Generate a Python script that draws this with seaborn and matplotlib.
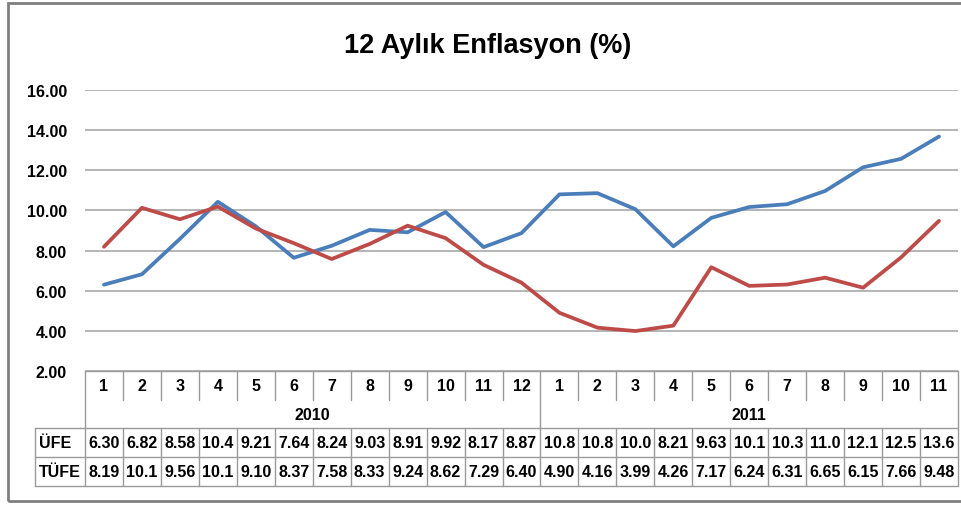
import numpy as np
import pandas as pd
import matplotlib
matplotlib.use("Agg")
import matplotlib.pyplot as plt
import seaborn as sns
from matplotlib.patches import Rectangle

# === DATA ===
MONTHS = [1, 2, 3, 4, 5, 6, 7, 8, 9, 10, 11, 12, 1, 2, 3, 4, 5, 6, 7, 8, 9, 10, 11]
YEARS = ["2010", "2011"]
YEAR_COUNTS = [12, 11]
UFE = [6.30, 6.82, 8.58, 10.43, 9.21, 7.64, 8.24, 9.03, 8.91, 9.92, 8.17, 8.87,
       10.80, 10.86, 10.06, 8.21, 9.63, 10.17, 10.31, 10.97, 12.15, 12.57, 13.68]
TUFE = [8.19, 10.13, 9.56, 10.19, 9.10, 8.37, 7.58, 8.33, 9.24, 8.62, 7.29, 6.40,
        4.90, 4.16, 3.99, 4.26, 7.17, 6.24, 6.31, 6.65, 6.15, 7.66, 9.48]
UFE_LABELS = ["6.30", "6.82", "8.58", "10.4", "9.21", "7.64", "8.24", "9.03", "8.91", "9.92", "8.17", "8.87",
              "10.8", "10.8", "10.0", "8.21", "9.63", "10.1", "10.3", "11.0", "12.1", "12.5", "13.6"]
TUFE_LABELS = ["8.19", "10.1", "9.56", "10.1", "9.10", "8.37", "7.58", "8.33", "9.24", "8.62", "7.29", "6.40",
               "4.90", "4.16", "3.99", "4.26", "7.17", "6.24", "6.31", "6.65", "6.15", "7.66", "9.48"]
SERIES = ["ÜFE", "TÜFE"]
COLORS = {"ÜFE": "#4A7EBB", "TÜFE": "#BE4B48"}

W, H = 961, 506
FONT = ["Liberation Sans", "DejaVu Sans"]

sns.set_style("white")
plt.rcParams["font.family"] = FONT
plt.rcParams["text.color"] = "black"
plt.rcParams["ytick.color"] = "black"

n = len(MONTHS)
df = pd.DataFrame({
    "i": list(range(n)) * 2,
    "value": UFE + TUFE,
    "series": ["ÜFE"] * n + ["TÜFE"] * n,
})

fig = plt.figure(figsize=(W / 100, H / 100), dpi=100)
# plot area in pixels: x 85..958, y 91..372
left, right, top, bottom = 85, 958, 91, 372
ax = fig.add_axes([left / W, 1 - bottom / H, (right - left) / W, (bottom - top) / H])

sns.lineplot(data=df, x="i", y="value", hue="series", hue_order=SERIES,
             palette=COLORS, linewidth=2.7, legend=False, ax=ax)

ax.set_xlim(-0.5, n - 0.5)
ax.set_ylim(2, 16)
ax.set_yticks(np.arange(2, 17, 2))
ax.set_yticklabels([f"{v:.2f}" for v in np.arange(2, 17, 2)], fontweight="bold", fontsize=11.5)
ax.tick_params(axis="y", length=0, pad=13)
ax.set_xticks([])
ax.set_xlabel("")
ax.set_ylabel("")
for s in ax.spines.values():
    s.set_visible(False)
ax.grid(axis="y", color="#a0a0a0", linewidth=1.1)
ax.set_axisbelow(True)

# title
fig.text(488 / W, 1 - 46 / H, "12 Aylık Enflasyon (%)", ha="center", va="center",
         fontsize=19.5, fontweight="bold")

# === data table below the plot ===
def fy(py):
    return 1 - py / H

def fx(i):
    # data x to figure fraction
    return (left + (i + 0.5) / n * (right - left)) / W

tc = "#9a9a9a"
rows = [372, 401, 429, 458, 487]
x0 = left
label_left = 35
kw = dict(color=tc, linewidth=1, transform=fig.transFigure)

# horizontal lines
fig.add_artist(plt.Line2D([x0 / W, right / W], [fy(rows[0])] * 2, **kw))
fig.add_artist(plt.Line2D([label_left / W, right / W], [fy(rows[2])] * 2, **kw))
fig.add_artist(plt.Line2D([label_left / W, right / W], [fy(rows[3])] * 2, **kw))
fig.add_artist(plt.Line2D([label_left / W, right / W], [fy(rows[4])] * 2, **kw))
# vertical lines
fig.add_artist(plt.Line2D([x0 / W] * 2, [fy(rows[0]), fy(rows[4])], **kw))
fig.add_artist(plt.Line2D([label_left / W] * 2, [fy(rows[2]), fy(rows[4])], **kw))
fig.add_artist(plt.Line2D([right / W] * 2, [fy(rows[0]), fy(rows[4])], **kw))
for k in range(1, n):
    xe = fx(k - 0.5)
    if k == YEAR_COUNTS[0]:
        fig.add_artist(plt.Line2D([xe] * 2, [fy(rows[0]), fy(rows[4])], **kw))
    else:
        fig.add_artist(plt.Line2D([xe] * 2, [fy(rows[0]), fy(rows[1])], **kw))
        fig.add_artist(plt.Line2D([xe] * 2, [fy(rows[2]), fy(rows[4])], **kw))

tk = dict(ha="center", va="center", fontsize=11.5, fontweight="bold", transform=fig.transFigure)
for i, m in enumerate(MONTHS):
    fig.text(fx(i), fy((rows[0] + rows[1]) / 2), str(m), **tk)
    fig.text(fx(i), fy((rows[2] + rows[3]) / 2), UFE_LABELS[i], **tk)
    fig.text(fx(i), fy((rows[3] + rows[4]) / 2), TUFE_LABELS[i], **tk)
start = 0
for yr, cnt in zip(YEARS, YEAR_COUNTS):
    fig.text((fx(start) + fx(start + cnt - 1)) / 2, fy((rows[1] + rows[2]) / 2), yr, **tk)
    start += cnt
for lab, r in zip(SERIES, [2, 3]):
    fig.text((label_left + 4) / W, fy((rows[r] + rows[r + 1]) / 2), lab,
             ha="left", va="center", fontsize=11.5, fontweight="bold")

# outer frame
fig.add_artist(Rectangle((8 / W, fy(502)), (W + 10) / W, (502 - 4) / H, transform=fig.transFigure,
                         fill=False, edgecolor="#7f7f7f", linewidth=2))

fig.savefig("out.png", dpi=100)
